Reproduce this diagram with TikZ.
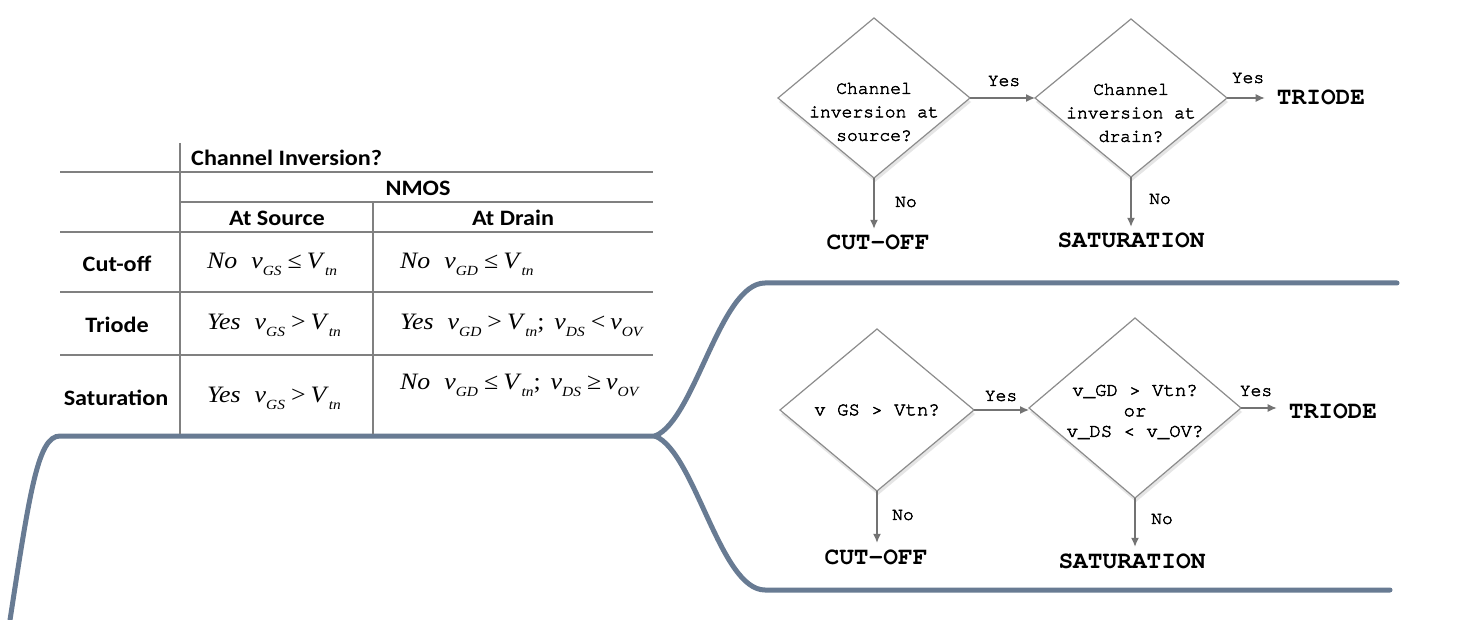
\documentclass[tikz,border=0pt]{standalone}
\usepackage{fontspec}
\setmainfont{Liberation Serif}
\newfontfamily\hdrfont[FakeStretch=1.1]{Carlito}
\newfontfamily\mymono[FakeBold=2.5]{TeX Gyre Cursor}
\newfontfamily\mymonob{TeX Gyre Cursor}
\newfontfamily\tnr[FakeStretch=1.1]{Liberation Serif}
\usetikzlibrary{shapes.geometric,arrows.meta,shadows}
\definecolor{branchc}{HTML}{687B93}
\newcommand\lsub[1]{\raisebox{-7pt}{\fontsize{14}{14}\selectfont #1}}
\newcommand\vv[2]{\textit{#1}\lsub{\textit{#2}}}
\newcommand\rel[1]{\hspace{6pt}#1\hspace{5pt}}
\tikzset{
  branch/.style={draw=branchc, line width=5pt, line cap=round},
  tline/.style={draw=black!50, line width=1.2pt},
  hdr/.style={font=\hdrfont\bfseries\fontsize{22}{22}\selectfont, inner sep=0},
  cellt/.style={anchor=base west, inner sep=0, font=\tnr\fontsize{23.5}{23.5}\selectfont},
  dia/.style={diamond, draw=black!45, line width=1.2pt, fill=white, inner sep=0, outer sep=0,
    drop shadow={shadow xshift=1pt, shadow yshift=-4pt, opacity=0.2}},
  dtext/.style={align=center, font=\mymono\fontsize{18}{23.5}\selectfont, inner sep=0},
  res/.style={font=\mymonob\bfseries\fontsize{24.5}{24.5}\selectfont, text height=14pt, text depth=0pt, inner xsep=12pt, inner ysep=7pt},
  flow/.style={draw=black!55, line width=1.3pt, -{Latex[length=9pt,width=8pt]}},
  lab/.style={font=\mymono\fontsize{18}{18}\selectfont, inner sep=0},
}
\begin{document}
\begin{tikzpicture}[x=1pt,y=-1pt]
\useasboundingbox (0,0) rectangle (1470,620);
\fill[white] (0,0) rectangle (1470,620);

% ---------- mind-map branches ----------
\coordinate (bl) at (10,620);
\coordinate (rootL) at (60,436);
\coordinate (root) at (655,436);
\coordinate (upS) at (765,283);
\coordinate (upE) at (1397,283);
\coordinate (loS) at (765,590);
\coordinate (loE) at (1390,590);
\draw[branch] (bl) .. controls (30,490) and (38,436) .. (rootL) -- (root);
\draw[branch] (root) .. controls (695,420) and (720,283) .. (upS) -- (upE);
\draw[branch] (root) .. controls (695,452) and (720,590) .. (loS) -- (loE);

% ---------- table ----------
\coordinate (h1a) at (60,172);  \coordinate (h1b) at (653,172);
\coordinate (h2a) at (180,202); \coordinate (h2b) at (653,202);
\coordinate (h3a) at (60,232);  \coordinate (h3b) at (653,232);
\coordinate (h4a) at (60,292);  \coordinate (h4b) at (653,292);
\coordinate (h5a) at (60,355);  \coordinate (h5b) at (653,355);
\coordinate (v1a) at (180,143); \coordinate (v1b) at (180,434);
\coordinate (v2a) at (373,202); \coordinate (v2b) at (373,434);
\draw[tline] (h1a) -- (h1b);
\draw[tline] (h2a) -- (h2b);
\draw[tline] (h3a) -- (h3b);
\draw[tline] (h4a) -- (h4b);
\draw[tline] (h5a) -- (h5b);
\draw[tline] (v1a) -- (v1b);
\draw[tline] (v2a) -- (v2b);

\node[hdr, anchor=west] (chinv) at (191,158) {Channel Inversion?};
\node[hdr] (nmos) at (418,188) {NMOS};
\node[hdr] (atsrc) at (277,218) {At Source};
\node[hdr] (atdrn) at (513,218) {At Drain};
\node[hdr] (rcut) at (117,264) {Cut-off};
\node[hdr] (rtri) at (117,325) {Triode};
\node[hdr] (rsat) at (116,398) {Saturation};

\node[cellt] (c11) at (207,269) {\textit{No}\hspace{14pt}\vv{v}{GS}\rel{≤}\vv{V}{tn}};
\node[cellt] (c12) at (400,269) {\textit{No}\hspace{14pt}\vv{v}{GD}\rel{≤}\vv{V}{tn}};
\node[cellt] (c21) at (207,330) {\textit{Yes}\hspace{14pt}\vv{v}{GS}\rel{>}\vv{V}{tn}};
\node[cellt] (c22) at (400,330) {\textit{Yes}\hspace{14pt}\vv{v}{GD}\rel{>}\vv{V}{tn};\hspace{10pt}\vv{v}{DS}\rel{<}\vv{v}{OV}};
\node[cellt] (c31) at (207,402) {\textit{Yes}\hspace{14pt}\vv{v}{GS}\rel{>}\vv{V}{tn}};
\node[cellt] (c32) at (400,389) {\textit{No}\hspace{14pt}\vv{v}{GD}\rel{≤}\vv{V}{tn};\hspace{10pt}\vv{v}{DS}\rel{≥}\vv{v}{OV}};

% ---------- top flowchart ----------
\node[dia, minimum width=192pt, minimum height=160pt] (d1) at (874,98) {};
\node[dtext] (d1t) at (874,112) {Channel\\inversion at\\source?};
\node[dia, minimum width=192pt, minimum height=158pt] (d2) at (1131,98) {};
\node[dtext] (d2t) at (1131,113) {Channel\\inversion at\\drain?};
\node[res] (T1) at (1321,98) {TRIODE};
\node[res] (S1) at (1131,241) {SATURATION};
\node[res] (C1) at (878,243) {CUT-OFF};
\draw[flow] (d1.east) -- (d2.west);
\draw[flow] (d2.east) -- (T1.west);
\draw[flow] (d1.south) -- (d1.south |- C1.north);
\draw[flow] (d2.south) -- (d2.south |- S1.north);
\node[lab] (y1) at (1004,81) {Yes};
\node[lab] (y2) at (1248,78) {Yes};
\node[lab] (n1) at (906,202) {No};
\node[lab] (n2) at (1160,199) {No};

% ---------- bottom flowchart ----------
\node[dia, minimum width=194pt, minimum height=162pt] (d3) at (877,410) {};
\node[dtext, font=\mymono\fontsize{19}{20}\selectfont] (d3t) at (877,410) {v GS > Vtn?};
\node[dia, minimum width=212pt, minimum height=180pt] (d4) at (1135,408) {};
\node[dtext, font=\mymono\fontsize{19}{20.5}\selectfont] (d4t) at (1135,412) {v\_GD > Vtn?\\or\\v\_DS < v\_OV?};
\node[res] (T2) at (1333,411) {TRIODE};
\node[res] (S2) at (1132,561) {SATURATION};
\node[res] (C2) at (876,557) {CUT-OFF};
\draw[flow] (d3.east) -- (d3.east -| d4.west);
\draw[flow] (d4.east) -- (d4.east -| T2.west);
\draw[flow] (d3.south) -- (d3.south |- C2.north);
\draw[flow] (d4.south) -- (d4.south |- S2.north);
\node[lab] (y3) at (1001,396) {Yes};
\node[lab] (y4) at (1256,391) {Yes};
\node[lab] (n3) at (903,515) {No};
\node[lab] (n4) at (1162,519) {No};
\end{tikzpicture}
\end{document}
